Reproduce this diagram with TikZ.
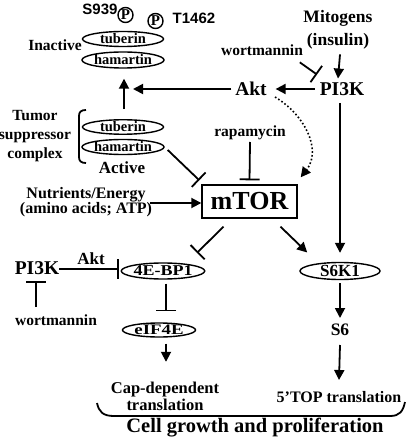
\documentclass[tikz,border=0pt]{standalone}
\usepackage{fontspec}
\setmainfont{Liberation Serif}
\newfontfamily\arialf{Liberation Sans}
\usetikzlibrary{arrows.meta,shapes.geometric}
\newcommand\fsz[2]{\fontsize{#1}{#2}\selectfont\bfseries}
\newcommand\sfsz[2]{\arialf\bfseries\fontsize{#1}{#2}\selectfont}
\begin{document}
\begin{tikzpicture}[x=1pt,y=-1pt,line width=1.8pt,
  every node/.style={inner sep=0pt},
  lab/.style={font=\fsz{15.5}{19}, align=center},
  big/.style={font=\fsz{19.5}{23}},
  ell/.style={ellipse, draw, line width=1.4pt, minimum width=81pt, minimum height=15pt, font=\fsz{14.5}{16}},
  pcirc/.style={circle, draw, line width=1.4pt, minimum size=15pt, font=\fsz{15}{16}},
  act/.style={-{Triangle[length=10pt,width=10pt]}},
  inh/.style={-{Bar[width=20pt]}}]
\useasboundingbox (0,0) rectangle (410,443);

% top-left: inactive complex
\node[ell] (tubI) at (123,39) {tuberin};
\node[ell, minimum height=16pt] (hamI) at (123,60) {hamartin};
\node[lab] (inact) at (55,45) {Inactive};
\node[pcirc] (p1) at (125.5,15) {P};
\node[pcirc] (p2) at (155.5,21) {P};
\node[font=\sfsz{15}{18}] (s939) at (100,9) {S939};
\node[font=\sfsz{15}{18}] (t1462) at (194,18) {T1462};

% active complex
\node[lab] (tsc) at (35,136) {Tumor\\suppressor\\complex};
\node[ell, minimum height=14pt] (tubA) at (123,127) {tuberin};
\node[ell] (hamA) at (123,147) {hamartin};
\node[font=\fsz{17}{20}] (active) at (122,168) {Active};
\draw[line width=1.8pt] (86,110) .. controls (81,110) and (79,112) .. (79,116) -- (79,157) .. controls (79,161) and (81,163) .. (86,163);

% upper right
\node[font=\fsz{17.5}{23}, align=center] (mit) at (338,30) {Mitogens\\(insulin)};
\node[big] (pi3k) at (342,89) {PI3K};
\node[big] (akt) at (251,89) {Akt};
\node[lab] (wort1) at (262,50) {wortmannin};
\node[lab] (rapa) at (250,133) {rapamycin};
\coordinate (jn) at (123,89);

% mTOR
\node[draw, line width=1.4pt, minimum width=95pt, minimum height=33pt, font=\fsz{26}{30}] (mtor) at (249.5,201.5) {mTOR};
\node[font=\fsz{16}{15.5}, align=center] (nutr) at (86,202) {Nutrients/Energy\\(amino acids; ATP)};

% lower part
\node[ell, minimum height=16pt, font=\fsz{15}{17}] (ebp) at (163,271) {\scalebox{1.2}[1]{4E-BP1}};
\node[ell, minimum width=73pt, minimum height=14pt, font=\fsz{14.5}{17}] (eif) at (159,330) {\scalebox{1.3}[1]{eIF4E}};
\node[ell, minimum width=80pt, minimum height=17pt, font=\fsz{17}{18}] (s6k) at (340,271) {S6K1};
\node[font=\fsz{17.5}{20}] (s6) at (340,330) {S6};
\node[big] (pi3kb) at (37,268) {PI3K};
\node[font=\fsz{17}{20}] (aktb) at (91,259) {Akt};
\node[lab] (wort2) at (56,320) {wortmannin};
\node[font=\fsz{16.5}{17}, align=center] (cap) at (165,396) {Cap-dependent\\translation};
\node[font=\fsz{16}{18}] (top5) at (339,397) {5’TOP translation};
\node[font=\fsz{20.5}{24}] (cell) at (255,427.5) {Cell growth and proliferation};

% connectors
\draw[act] (mit.south) ++(2,4) -- ([shift={(0,-3)}]pi3k.north -| mit.south);
\draw[inh] ([shift={(-4,6)}]wort1.south east) -- ([shift={(-25,-7)}]pi3k.north);
\draw[act] ([shift={(-4,0)}]pi3k.west) -- ([shift={(8,0)}]akt.east);
\draw[act] ([shift={(-3,0)}]akt.west) -- ([shift={(10,0)}]jn);
\draw[act] ([shift={(1,-10)}]tubA.north) -- ([shift={(1,10)}]hamI.south);
\draw[act, line width=1.6pt, dash pattern=on 1.6pt off 2.2pt] ([shift={(24,8)}]akt.center) .. controls (305,115) and (322,150) .. ([shift={(3,-7)}]mtor.north east);
\draw[inh] ([shift={(0,9)}]rapa.center) -- ([shift={(0,-4)}]mtor.north);
\draw[inh] ([shift={(3,3)}]hamA.east) -- ([shift={(-2,-4)}]mtor.north west);
\draw[act] ([shift={(64,1)}]nutr.center) -- (mtor.west |- 0,203);
\draw[inh] ([shift={(-26,8)}]mtor.south) -- ([shift={(4,-12)}]ebp.north east);
\draw[act] ([shift={(31,8)}]mtor.south) -- ([shift={(-4,-12)}]s6k.north west);
\draw[act] ([shift={(0,14)}]pi3k.center -| s6k.north) -- ([shift={(0,-9)}]s6k.north);
\draw[act] ([shift={(0,3)}]s6k.south) -- ([shift={(0,-12)}]s6.center);
\draw[act] ([shift={(0,15)}]s6.center) -- ([shift={(0,-17)}]top5.center);
\draw[inh] ([shift={(22,1)}]pi3kb.center) -- ([shift={(-2,-2)}]ebp.west);
\draw[inh] ([shift={(-20,-13)}]wort2.center) -- ([shift={(-1,13)}]pi3kb.center);
\draw[inh] ([shift={(3,4)}]ebp.south) -- ([shift={(7,-11)}]eif.north);
\draw[act] ([shift={(7,6)}]eif.south) -- ([shift={(1,-19)}]cap.north);

% bottom bracket
\draw[line width=1.8pt] (97,403) .. controls (99,412) and (103,416) .. (114,416) -- (390,416) .. controls (400,416) and (403,411) .. (405,402);
\end{tikzpicture}
\end{document}
